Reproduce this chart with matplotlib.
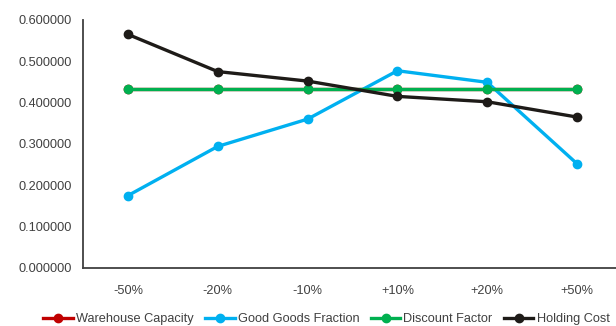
import matplotlib
matplotlib.use("Agg")
import matplotlib.pyplot as plt

changes = ["-50%", "-20%", "-10%", "+10%", "+20%", "+50%"]
warehouse_capacity = [0.433, 0.433, 0.433, 0.433, 0.433, 0.433]
good_goods_fraction = [0.175, 0.294, 0.360, 0.477, 0.449, 0.252]
discount_factor = [0.433, 0.433, 0.433, 0.433, 0.433, 0.433]
holding_cost = [0.565, 0.475, 0.452, 0.415, 0.402, 0.365]

plt.rcParams["font.family"] = ["Liberation Sans", "DejaVu Sans"]

fig = plt.figure(figsize=(6.16, 3.26), dpi=100)
ax = fig.add_axes([0.1347, 0.178, 0.875, 0.761])

x = range(len(changes))
series = [
    ("Warehouse Capacity", warehouse_capacity, "#C00000"),
    ("Good Goods Fraction", good_goods_fraction, "#00B0F0"),
    ("Discount Factor", discount_factor, "#00B050"),
    ("Holding Cost", holding_cost, "#1E1B18"),
]
for name, vals, color in series:
    ax.plot(x, vals, color=color, lw=2.4, marker="o", ms=6, label=name)

ax.set_xlim(-0.5, len(changes) - 0.5)
ax.set_ylim(0, 0.6)
ax.set_yticks([i / 10 for i in range(7)])
ax.set_yticklabels([f"{i / 10:.6f}" for i in range(7)])
ax.set_xticks(list(x))
ax.set_xticklabels(changes)
ax.tick_params(length=0, labelsize=9.2, colors="#404040", pad=12)
ax.tick_params(axis="y", pad=8)
for s in ["top", "right"]:
    ax.spines[s].set_visible(False)
for s in ["left", "bottom"]:
    ax.spines[s].set_color("#404040")
    ax.spines[s].set_linewidth(1.3)

fig.legend(loc="center", bbox_to_anchor=(0.53, 0.02), ncol=4, frameon=False,
           fontsize=9.2, handlelength=2.3, handletextpad=0.25, columnspacing=0.9,
           labelcolor="#404040")

fig.savefig("out.png", dpi=100)
